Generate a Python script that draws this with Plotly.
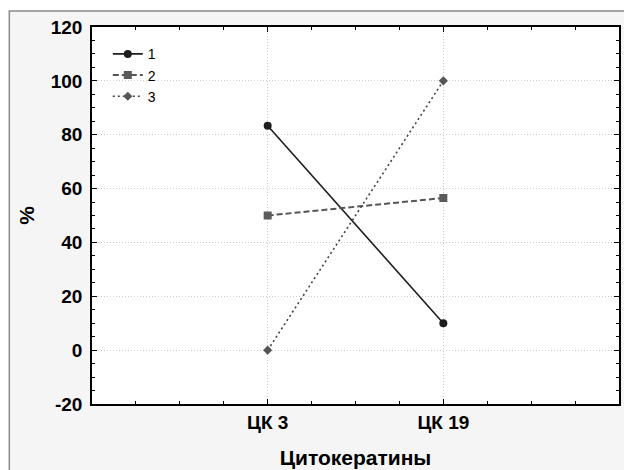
import plotly.graph_objects as go

categories = ["ЦК 3", "ЦК 19"]
x_pos = [1, 2]
series_names = ["1", "2", "3"]
s1 = [83.3, 10.0]
s2 = [50.0, 56.5]
s3 = [0.0, 100.0]
y_ticks = [-20, 0, 20, 40, 60, 80, 100, 120]
y_tick_labels = ["-20", "0", "20", "40", "60", "80", "100", "120"]

W, H = 624, 470
L, R, T, B = 92, 3, 27, 66
pw, ph = W - L - R, H - T - B

font_family = "Liberation Sans, Arial, sans-serif"

fig = go.Figure()
styles = [
    dict(line=dict(color="#1e1e1e", width=1.6, dash="solid"),
         marker=dict(symbol="circle", size=8, color="#1e1e1e")),
    dict(line=dict(color="#555555", width=2, dash="6px,3px"),
         marker=dict(symbol="square", size=8, color="#5a5a5a")),
    dict(line=dict(color="#444444", width=1.6, dash="2px,3px"),
         marker=dict(symbol="diamond", size=7, color="#555555")),
]
for name, ys, st in zip(series_names, [s1, s2, s3], styles):
    fig.add_trace(go.Scatter(x=x_pos, y=ys, name=name, mode="lines+markers",
                             line=st["line"], marker=st["marker"]))

# outer frame
fig.add_shape(type="rect", xref="paper", yref="paper",
              x0=(9 - L) / pw, x1=(W + 5 - L) / pw,
              y0=-(B + 5) / ph, y1=(H - B - 11) / ph,
              fillcolor="#f5f5f5", line=dict(color="#8a8a8a", width=1.5),
              layer="below")
fig.add_shape(type="rect", xref="paper", yref="paper",
              x0=0, x1=1, y0=0, y1=1,
              fillcolor="white", line=dict(width=0), layer="below")

axis_common = dict(
    showline=True, linecolor="black", linewidth=1.5, mirror="ticks",
    ticks="inside", ticklen=5, tickcolor="black", tickwidth=1,
    showgrid=True, gridcolor="#cccccc", griddash="1px,2px", gridwidth=1,
    zeroline=False,
    tickfont=dict(family=font_family, size=19, color="black", weight="bold"),
)

fig.update_layout(
    width=W, height=H,
    margin=dict(l=L, r=R, t=T, b=B),
    paper_bgcolor="white",
    plot_bgcolor="white",
    xaxis=dict(**axis_common, range=[0, 3], tickvals=x_pos, ticktext=categories,
               minor=dict(dtick=0.25, tick0=0, ticks="inside", ticklen=3,
                          tickcolor="black", showgrid=False),
               title=dict(text="Цитокератины", standoff=19,
                          font=dict(family=font_family, size=21, color="black", weight="bold"))),
    yaxis=dict(**axis_common, range=[-20, 120], tickvals=y_ticks, ticktext=y_tick_labels,
               ticklabelstandoff=4,
               minor=dict(dtick=5, tick0=0, ticks="inside", ticklen=3,
                          tickcolor="black", showgrid=False),
               title=dict(text="%", standoff=10,
                          font=dict(family=font_family, size=21, color="black", weight="bold"))),
    legend=dict(x=0.03, y=0.97, xanchor="left", yanchor="top",
                bgcolor="rgba(0,0,0,0)",
                font=dict(family=font_family, size=14, color="black"),
                tracegroupgap=0),
    showlegend=True,
)

fig.write_html("out.html", post_script="document.body.style.margin='0';",
               config={"displayModeBar": False})
